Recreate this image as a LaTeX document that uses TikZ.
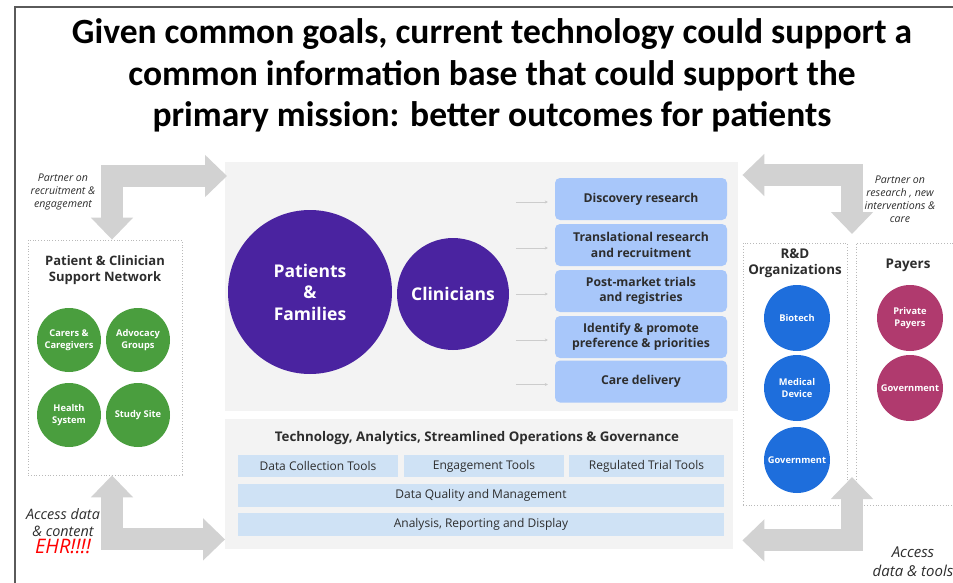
\documentclass[tikz,border=0pt]{standalone}
\usepackage{fontspec}
\setmainfont{Open Sans}
\newfontfamily\titlefont{Carlito}
\usetikzlibrary{arrows.meta,calc}

\definecolor{framegrey}{RGB}{90,90,90}
\definecolor{panelgrey}{RGB}{243,243,243}
\definecolor{arrowgrey}{RGB}{210,210,210}
\definecolor{deeppurple}{RGB}{74,35,160}
\definecolor{usecaseblue}{RGB}{168,199,250}
\definecolor{toolblue}{RGB}{207,226,245}
\definecolor{netgreen}{RGB}{74,158,62}
\definecolor{rdblue}{RGB}{30,110,220}
\definecolor{payermagenta}{RGB}{176,58,110}
\definecolor{inktext}{RGB}{45,45,45}

\tikzset{
  headline/.style={font=\titlefont\bfseries\fontsize{35.5}{40}\selectfont, inner sep=0pt},
  panel/.style={fill=panelgrey, inner sep=0pt, anchor=north west},
  group/.style={draw=gray!55, dotted, line width=0.8pt, inner sep=0pt},
  groupttl/.style={font=\bfseries\fontsize{13}{16}\selectfont, text=inktext, align=center},
  bigdot/.style={circle, fill=deeppurple, text=white, align=center, inner sep=0pt,
    font=\bfseries\fontsize{17.5}{21.5}\selectfont},
  member/.style={circle, minimum size=#1, inner sep=0pt, text=white, align=center,
    font=\bfseries\fontsize{9.3}{11.5}\selectfont},
  usecase/.style={fill=usecaseblue, rounded corners=5pt, minimum width=172pt,
    minimum height=42pt, inner sep=0pt, align=center, text=inktext,
    font=\bfseries\fontsize{12.2}{15.5}\selectfont},
  toolbox/.style={fill=toolblue, inner sep=0pt, text=inktext,
    font=\fontsize{12}{14}\selectfont},
  feed/.style={draw=gray!40, line width=0.5pt, -{Stealth[length=3pt,width=3pt]}},
  blockarrow/.style={draw=arrowgrey, line width=22pt, line join=miter,
    {Triangle[width=41pt,length=22pt]}-{Triangle[width=41pt,length=22pt]}},
  note/.style={font=\itshape\fontsize{10.6}{13}\selectfont, text=inktext, align=center}
}

\begin{document}
\begin{tikzpicture}[x=1pt,y=-1pt]
\useasboundingbox (0,0) rectangle (953,583);

% outer frame
\draw[framegrey, line width=1.2pt] (15,590) -- (15,7) -- (960,7);

% headline
\node[headline] (h1) at (492,34) {Given common goals, current technology could support a};
\node[headline] (h2) at (492,76) {common information base that could support the};
\node[headline] (h3) at (492,117) {primary mission: better outcomes for patients};

% central panels
\node[panel, minimum width=513pt, minimum height=249pt] (core) at (225,162) {};
\node[panel, minimum width=508pt, minimum height=130pt] (base) at (225,419) {};

% stakeholders
\node[bigdot, minimum size=164pt] (pf) at (310,292) {Patients\\\&\\Families};
\node[bigdot, minimum size=112pt] (cl) at (453,294) {Clinicians};

% use cases
\node[usecase] (u1) at (641,199) {Discovery research};
\node[usecase] (u2) at (641,245) {Translational research\\and recruitment};
\node[usecase] (u3) at (641,291) {Post-market trials\\and registries};
\node[usecase] (u4) at (641,337) {Identify \& promote\\preference \& priorities};
\node[usecase] (u5) at (641,381.5) {Care delivery};
\foreach \u in {u1,u2,u3,u4,u5}
  \draw[feed] ($(\u.west)+(-39,3)$) -- ($(\u.west)+(-7,3)$);

% technology layer
\node[font=\bfseries\fontsize{13.3}{16}\selectfont, text=inktext] (tech) at (477,438)
  {Technology, Analytics, Streamlined Operations \& Governance};
\node[toolbox, minimum width=160pt, minimum height=22pt] (dc) at (318,466) {Data Collection Tools};
\node[toolbox, minimum width=160pt, minimum height=22pt] (et) at (484,466) {Engagement Tools};
\node[toolbox, minimum width=155pt, minimum height=22pt] (rt) at (646.5,466) {Regulated Trial Tools};
\node[toolbox, minimum width=486pt, minimum height=23pt] (dq) at (481,495.5) {Data Quality and Management};
\node[toolbox, minimum width=486pt, minimum height=23pt] (ar) at (481,524.5) {Analysis, Reporting and Display};

% patient & clinician support network
\node[group, minimum width=154pt, minimum height=235pt] (pcs) at (105,357.5) {};
\node[groupttl] (pcst) at (105,270) {Patient \& Clinician\\Support Network};
\node[member=64pt, fill=netgreen] (cc) at (69,340) {Carers \&\\Caregivers};
\node[member=64pt, fill=netgreen] (ag) at (138,340) {Advocacy\\Groups};
\node[member=64pt, fill=netgreen] (hs) at (69,415) {Health\\System};
\node[member=64pt, fill=netgreen] (ss) at (138,415) {Study Site};

% R&D organizations
\node[group, minimum width=104pt, minimum height=262pt] (rd) at (795,374) {};
\node[groupttl, font=\bfseries\fontsize{13.4}{16}\selectfont] (rdt) at (795,263) {R\&D\\Organizations};
\node[member=66pt, fill=rdblue] (bt) at (797,318) {Biotech};
\node[member=66pt, fill=rdblue] (md) at (797,388) {Medical\\Device};
\node[member=66pt, fill=rdblue] (gv) at (797,460) {Government};

% payers
\node[group, minimum width=108pt, minimum height=262pt] (py) at (910,374) {};
\node[groupttl, font=\bfseries\fontsize{13.4}{16}\selectfont] (pyt) at (908,265) {Payers};
\node[member=66pt, fill=payermagenta] (pp) at (910,318) {Private\\Payers};
\node[member=66pt, fill=payermagenta] (pg) at (910,388) {Government};

% partnership arrows
\coordinate (tlend) at ($(core.north west)+(2,14)$);
\coordinate (blend) at ($(base.south west)+(0,-10)$);
\coordinate (trtip) at (852,234);
\coordinate (trend) at ($(core.north east)+(4,13)$);
\coordinate (brtip) at (852,477);
\coordinate (brend) at ($(base.south east)+(9,-9)$);
\draw[blockarrow] ($(pcs.north)+(7,0)$) |- (tlend);
\draw[blockarrow] ($(pcs.south)+(7,0)$) |- (blend);
\draw[blockarrow] (trtip) |- (trend);
\draw[blockarrow] (brtip) |- (brend);

% arrow notes
\node[note] (n1) at (63,192) {Partner on\\recruitment \&\\engagement};
\node[note] (n2) at (900,199) {Partner on\\research , new\\interventions \&\\care};
\node[note, font=\itshape\fontsize{14.4}{17}\selectfont] (n3) at (63,531)
  {Access data\\\& content\\{\color{red}\fontsize{20}{20}\selectfont EHR!!!!}};
\node[note, font=\itshape\fontsize{15}{19}\selectfont] (n4) at (913,562) {Access\\data \& tools};
\end{tikzpicture}
\end{document}
